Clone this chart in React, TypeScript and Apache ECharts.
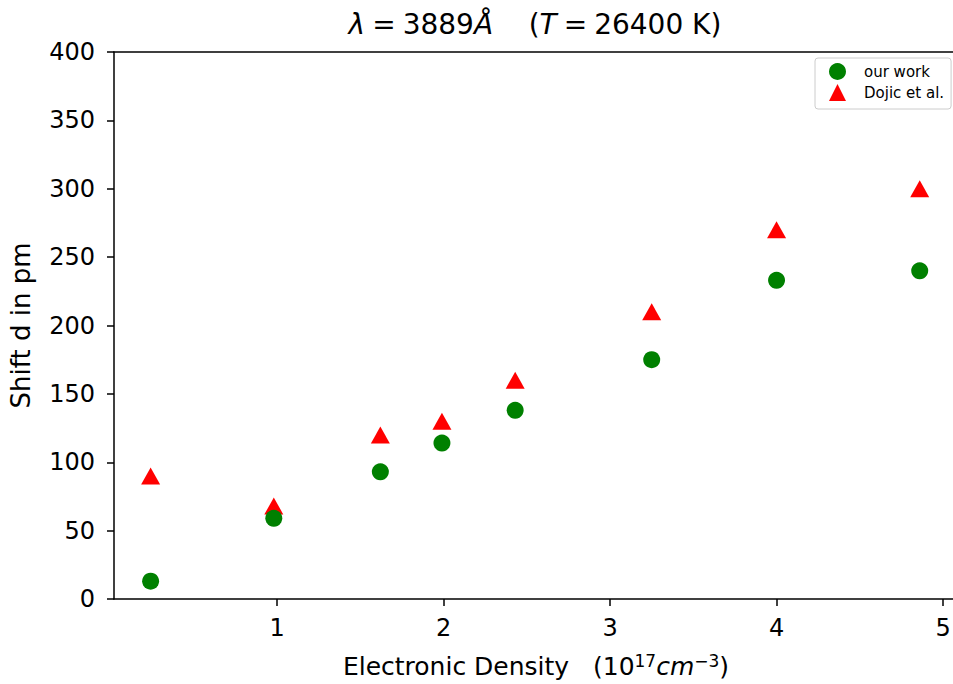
import React, { useEffect, useRef } from "react";
import * as echarts from "echarts";

const densities = [0.24, 0.98, 1.62, 1.99, 2.43, 3.25, 4.0, 4.86];
const ourWork = [13, 59, 93, 114, 138, 175, 233, 240];
const dojic = [90, 68, 120, 130, 160, 210, 270, 300];
const xTicks = [1, 2, 3, 4, 5];
const seriesNames = ["our work", "Dojic et al."];

const FONT = "DejaVu Sans";
const X_MIN = 0.02;
const X_MAX = 5.09;

export default function App() {
  const ref = useRef<HTMLDivElement>(null);
  useEffect(() => {
    if (!ref.current) return;
    const chart = echarts.init(ref.current, null, { renderer: "svg" });
    chart.setOption({
      animation: false,
      backgroundColor: "#fff",
      textStyle: { fontFamily: FONT },
      grid: { left: 111, top: 52, width: 847, height: 550, show: false },
      graphic: [
        {
          type: "text",
          x: 535,
          y: 24,
          style: {
            text: "{i|λ}{e|=}3889{i|Å}    ({i|T}{e|=}26400 K)",
            align: "center",
            verticalAlign: "middle",
            fontFamily: FONT,
            fontSize: 28,
            fill: "#000",
            rich: {
              i: { fontStyle: "italic", fontSize: 28, fontFamily: FONT, fill: "#000" },
              e: { fontSize: 28, fontFamily: FONT, fill: "#000", padding: [0, 7, 0, 7] },
            },
          },
        },
      ],
      legend: {
        orient: "vertical",
        left: 815,
        top: 58,
        padding: [5, 7, 8, 14],
        itemGap: 4,
        itemWidth: 17,
        itemHeight: 17,
        backgroundColor: "#fff",
        borderColor: "#ccc",
        borderWidth: 1,
        borderRadius: 3,
        textStyle: { fontFamily: FONT, fontSize: 15, color: "#000", padding: [0, 0, 0, 13] },
        data: [
          { name: seriesNames[0], icon: "circle" },
          { name: seriesNames[1], icon: "triangle" },
        ],
      },
      xAxis: [
        {
          type: "value",
          min: X_MIN,
          max: X_MAX,
          splitLine: { show: false },
          axisLine: { show: true, onZero: false, lineStyle: { color: "#000", width: 1.5 } },
          axisTick: { show: true, length: 7, customValues: xTicks, lineStyle: { color: "#000", width: 1.5 } },
          axisLabel: { customValues: xTicks, fontFamily: FONT, fontSize: 24, color: "#000", margin: 17 },
          name: "Electronic Density   (10{s|17}{i|cm}{s|−3})",
          nameLocation: "middle",
          nameGap: 53,
          nameTextStyle: {
            fontFamily: FONT,
            fontSize: 25,
            color: "#000",
            rich: {
              s: { fontSize: 17, verticalAlign: "bottom", fontFamily: FONT, color: "#000", padding: [0, 0, 12, 0] },
              i: { fontSize: 25, fontStyle: "italic", fontFamily: FONT, color: "#000" },
            },
          },
        },
        {
          type: "value",
          position: "top",
          min: X_MIN,
          max: X_MAX,
          splitLine: { show: false },
          axisLine: { show: true, onZero: false, lineStyle: { color: "#000", width: 1.5 } },
          axisTick: { show: false },
          axisLabel: { show: false },
        },
      ],
      yAxis: {
        type: "value",
        min: 0,
        max: 400,
        interval: 50,
        splitLine: { show: false },
        axisLine: { show: true, lineStyle: { color: "#000", width: 1.5 } },
        axisTick: { show: true, length: 7, lineStyle: { color: "#000", width: 1.5 } },
        axisLabel: { fontFamily: FONT, fontSize: 24, color: "#000", margin: 19 },
        name: "Shift d in pm",
        nameLocation: "middle",
        nameRotate: 90,
        nameGap: 80,
        nameTextStyle: { fontFamily: FONT, fontSize: 26, color: "#000" },
      },
      series: [
        {
          name: seriesNames[0],
          type: "scatter",
          symbol: "circle",
          symbolSize: 17,
          itemStyle: { color: "#008000", opacity: 1 },
          data: densities.map((d, i) => [d, ourWork[i]]),
          z: 3,
        },
        {
          name: seriesNames[1],
          type: "scatter",
          symbol: "triangle",
          symbolSize: [19, 17],
          itemStyle: { color: "#ff0000", opacity: 1 },
          data: densities.map((d, i) => [d, dojic[i]]),
          z: 2,
        },
      ],
    });
    return () => chart.dispose();
  }, []);
  return (
    <div style={{ position: "absolute", left: 0, top: 0, width: 953, height: 684, overflow: "hidden" }}>
      <div ref={ref} style={{ width: 965, height: 684 }} />
    </div>
  );
}
